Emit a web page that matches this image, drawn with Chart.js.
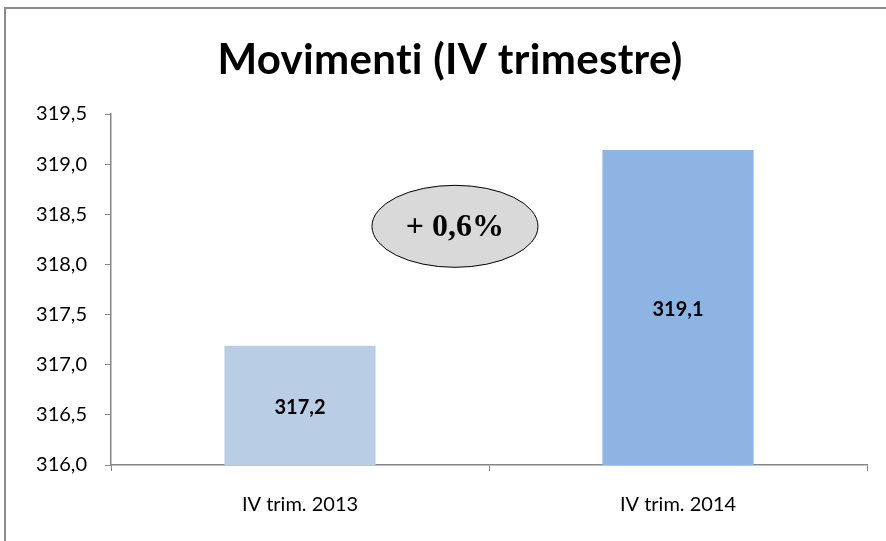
<!DOCTYPE html>
<html>
<head>
<meta charset="utf-8">
<script src="https://cdn.jsdelivr.net/npm/chart.js@4"></script>
<style>
  html, body { margin: 0; padding: 0; background: #fff; }
  #wrap { width: 886px; height: 541px; position: relative; }
</style>
</head>
<body>
<div id="wrap"><canvas id="chart"></canvas></div>
<script>
// dati del grafico
const categories = ['IV trim. 2013', 'IV trim. 2014'];
const movimenti = [317.19, 319.14];
const barColors = ['#b9cde5', '#8eb4e3'];
const titleText = 'Movimenti (IV trimestre)';
const variazione = '+ 0,6%';

const fmt = v => v.toFixed(1).replace('.', ',');

// titolo, cornice, etichette dei valori ed ellisse
const decorPlugin = {
  id: 'decor',
  beforeDraw(chart) {
    const ctx = chart.ctx;
    ctx.save();
    ctx.fillStyle = '#fff';
    ctx.fillRect(0, 0, chart.width, chart.height);
    ctx.strokeStyle = '#8c8c8c';
    ctx.lineWidth = 2;
    ctx.strokeRect(5, 8, chart.width + 20, chart.height + 20);
    ctx.restore();
  },
  afterDraw(chart) {
    const ctx = chart.ctx;
    const area = chart.chartArea;
    const yScale = chart.scales.y;
    ctx.save();
    // titolo
    ctx.fillStyle = '#000';
    ctx.font = 'bold 42px Lato';
    ctx.letterSpacing = '0.3px';
    ctx.textAlign = 'center';
    ctx.textBaseline = 'middle';
    ctx.fillText(titleText, 450, 60);
    ctx.letterSpacing = '0px';

    // etichette dentro le barre
    const meta = chart.getDatasetMeta(0);
    ctx.font = 'bold 20px Lato';
    meta.data.forEach((bar, i) => {
      const top = yScale.getPixelForValue(movimenti[i]);
      const bottom = yScale.getPixelForValue(yScale.min);
      ctx.fillText(fmt(movimenti[i]), bar.x, (top + bottom) / 2 + 2);
    });

    // ellisse con la variazione
    const cx = area.left + (area.right - area.left) * 0.455;
    const cy = yScale.getPixelForValue(318.38);
    ctx.beginPath();
    ctx.ellipse(cx, cy, 83, 41, 0, 0, Math.PI * 2);
    ctx.fillStyle = '#d9d9d9';
    ctx.fill();
    ctx.strokeStyle = '#000';
    ctx.lineWidth = 1;
    ctx.stroke();
    ctx.fillStyle = '#000';
    ctx.font = 'bold 32px "Liberation Serif"';
    ctx.fillText(variazione, cx, cy + 1);
    ctx.restore();
  }
};

new Chart(document.getElementById('chart'), {
  type: 'bar',
  data: {
    labels: categories,
    datasets: [{
      data: movimenti,
      backgroundColor: barColors,
      borderWidth: 0,
      barPercentage: 0.8,
      categoryPercentage: 0.5
    }]
  },
  options: {
    responsive: true,
    maintainAspectRatio: false,
    animation: false,
    layout: { padding: { top: 114, right: 19, bottom: 0, left: 0 } },
    plugins: {
      legend: { display: false },
      tooltip: { enabled: false }
    },
    scales: {
      x: {
        offset: true,
        grid: { offset: true, drawOnChartArea: false, tickLength: 6, color: '#868686' },
        border: { color: '#868686', width: 1.5 },
        ticks: { color: '#000', font: { family: 'Lato', size: 20 }, padding: 22 },
        afterFit(scale) { scale.height = 76; }
      },
      y: {
        min: 316,
        max: 319.5,
        ticks: {
          stepSize: 0.5,
          color: '#000',
          font: { family: 'Lato', size: 20 },
          padding: 18,
          callback: v => fmt(v)
        },
        grid: { drawOnChartArea: false, tickLength: 6, color: '#868686' },
        border: { color: '#868686', width: 1.5 },
        afterFit(scale) { scale.width = 111; }
      }
    }
  },
  plugins: [decorPlugin]
});
</script>
</body>
</html>
